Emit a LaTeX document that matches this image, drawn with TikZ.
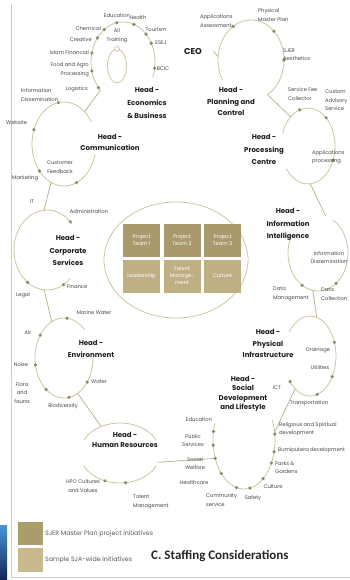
\documentclass[tikz,border=0pt]{standalone}
\usepackage{fontspec}
\setmainfont{Poppins}
\newfontfamily\titlefont{Carlito}
\usetikzlibrary{calc}
\definecolor{ringc}{RGB}{206,196,162}
\definecolor{connc}{RGB}{192,182,146}
\definecolor{dotc}{RGB}{140,140,104}
\definecolor{boxdark}{RGB}{168,154,108}
\definecolor{boxlight}{RGB}{190,176,132}
\definecolor{swdark}{RGB}{170,157,108}
\definecolor{swlight}{RGB}{200,186,140}
\definecolor{lblc}{RGB}{70,70,70}
\definecolor{headc}{RGB}{30,30,30}
\definecolor{framec}{RGB}{205,205,205}
\newcommand\mydot[3]{\fill[dotc] ($(#1)+(#2:#3)$) circle[radius=1.8];}
\begin{document}
\begin{tikzpicture}[x=1pt,y=-1pt,
 ring/.style={draw=ringc,line width=0.8pt},
 conn/.style={draw=connc,line width=0.8pt},
 lbl/.style={font=\fontsize{5.2}{8.5}\selectfont,text=lblc,inner sep=0pt,align=center},
 lbll/.style={lbl,align=left,anchor=west},
 lblr/.style={lbl,align=right,anchor=east},
 head/.style={font=\fontsize{7}{11.5}\selectfont\bfseries,text=headc,inner sep=0pt,align=center},
 headt/.style={head,font=\fontsize{7}{10}\selectfont\bfseries},
 boxd/.style={fill=boxdark,minimum width=37pt,minimum height=33pt,inner sep=0pt,text=white,font=\fontsize{5.2}{7}\selectfont,align=center},
 boxl/.style={boxd,fill=boxlight},
 legt/.style={font=\fontsize{6.3}{8}\selectfont,text=black!65,inner sep=0pt,anchor=west}
]
\useasboundingbox (0,0) rectangle (350,580);
\fill[white] (0,0) rectangle (350,580);
% frame and side block
\draw[framec,line width=0.8pt] (11.5,4) -- (11.5,577) -- (350,577);
\shade[top color={rgb,255:red,70;green,150;blue,220},bottom color={rgb,255:red,18;green,36;blue,88}] (0,525) rectangle (7,580);

% ellipse centres
\coordinate (eco) at (123,62);
\coordinate (com) at (64,144);
\coordinate (cor) at (47,250);
\coordinate (env) at (64,358);
\coordinate (hr) at (120,453);
\coordinate (soc) at (244,440);
\coordinate (phy) at (310,356);
\coordinate (inf) at (318,253);
\coordinate (pro) at (308,146);
\coordinate (pla) at (251,60);
\coordinate (cen) at (176,260);

% rings
\draw[ring] ($(eco)+(22:32 and 40)$) arc[start angle=22,end angle=-225,x radius=32,y radius=40];
\draw[ring] (117,66) ellipse[x radius=9.5,y radius=17];
\draw[ring,fill=white] (117,49) circle[radius=2.5];
\draw[ring] ($(com)+(14:32 and 42)$) arc[start angle=14,end angle=328,x radius=32,y radius=42];
\draw[ring] ($(cor)+(45:33 and 40)$) arc[start angle=45,end angle=320,x radius=33,y radius=40];
\draw[ring] ($(env)+(0:29 and 40)$) arc[start angle=0,end angle=315,x radius=29,y radius=40];
\draw[ring] ($(hr)+(-155:40 and 30)$) arc[start angle=-155,end angle=-25,x radius=40,y radius=30];
\draw[ring] ($(hr)+(25:40 and 30)$) arc[start angle=25,end angle=155,x radius=40,y radius=30];
\draw[ring] ($(soc)+(-24:31 and 49)$) arc[start angle=-24,end angle=200,x radius=31,y radius=49];
\draw[ring] ($(phy)+(-143:26 and 40)$) arc[start angle=-143,end angle=145,x radius=26,y radius=40];
\draw[ring] ($(inf)+(-60:30 and 38)$) arc[start angle=-60,end angle=203,x radius=30,y radius=38];
\draw[ring] ($(pro)+(-161:27 and 38)$) arc[start angle=-161,end angle=143,x radius=27,y radius=38];
\draw[ring] ($(pla)+(-210:33 and 40)$) arc[start angle=-210,end angle=60,x radius=33,y radius=40];
\draw[ring] (cen) ellipse[x radius=72,y radius=58];

% connector end points
\coordinate (eco-a) at ($(eco)+(135:32 and 40)$);
\coordinate (com-a) at ($(com)+(-50:32 and 42)$);
\coordinate (com-b) at ($(com)+(114:32 and 42)$);
\coordinate (cor-a) at ($(cor)+(-95:33 and 40)$);
\coordinate (cor-b) at ($(cor)+(95:33 and 40)$);
\coordinate (env-a) at ($(env)+(-115:29 and 40)$);
\coordinate (env-b) at ($(env)+(62:29 and 40)$);
\coordinate (hr-a) at ($(hr)+(-118:40 and 30)$);
\coordinate (hr-b) at ($(hr)+(18:40 and 30)$);
\coordinate (soc-a) at ($(soc)+(158:31 and 49)$);
\coordinate (soc-b) at ($(soc)+(-9:31 and 49)$);
\coordinate (phy-a) at ($(phy)+(125:26 and 40)$);
\coordinate (phy-b) at ($(phy)+(-75:26 and 40)$);
\coordinate (inf-a) at ($(inf)+(100:30 and 38)$);
\coordinate (inf-b) at ($(inf)+(-75:30 and 38)$);
\coordinate (pro-a) at ($(pro)+(85:27 and 38)$);
\coordinate (pro-b) at ($(pro)+(-130:27 and 38)$);
\coordinate (pla-a) at ($(pla)+(60:33 and 40)$);
\coordinate (pla-b) at ($(pla)+(185:33 and 40)$);
\coordinate (tick) at (213.5,51.5);

\draw[conn] (eco-a) -- (com-a);
\draw[conn] (com-b) -- (cor-a);
\draw[conn] (cor-b) -- (env-a);
\draw[conn] (env-b) -- (hr-a);
\draw[conn] (hr-b) -- (soc-a);
\draw[conn] (phy-a) -- (soc-b);
\draw[conn] (inf-a) -- (phy-b);
\draw[conn] (pro-a) -- (inf-b);
\draw[conn] (pla-a) -- (pro-b);
\draw[conn] (tick) -- (pla-b);

% dots
\foreach \a in {-126,-101,-70,-44,-28,9,-143,-167,167,140} {\mydot{eco}{\a}{32 and 40}}
\foreach \a in {-100,-160,140,67} {\mydot{com}{\a}{32 and 42}}
\foreach \a in {-45,126,60} {\mydot{cor}{\a}{33 and 40}}
\foreach \a in {-84,-145,170,128,80,37} {\mydot{env}{\a}{29 and 40}}
\foreach \a in {112,82} {\mydot{hr}{\a}{40 and 30}}
\foreach \a in {-170,174,158,137,104,79,52,28,14,-7} {\mydot{soc}{\a}{31 and 49}}
\foreach \a in {-20,31,74,140} {\mydot{phy}{\a}{26 and 40}}
\foreach \a in {122,53} {\mydot{inf}{\a}{30 and 38}}
\foreach \a in {-108,-48,22} {\mydot{pro}{\a}{27 and 38}}
\foreach \a in {-123,-46,0} {\mydot{pla}{\a}{33 and 40}}

% boxes
\node[boxd] (b1) at (141.5,240) {Project\\Team 1};
\node[boxd] (b2) at (182,240) {Project\\Team 2};
\node[boxd] (b3) at (222.5,240) {Project\\Team 3};
\node[boxl] (b4) at (141.5,276) {Leadership};
\node[boxl] (b5) at (182,276) {Talent\\Manage-\\ment};
\node[boxl] (b6) at (222.5,276) {Culture};

% heads
\node[head,font=\fontsize{8.5}{10}\selectfont\bfseries] (ceo) at (193,52) {CEO};
\node[head,font=\fontsize{7}{13}\selectfont\bfseries] (h-eco) at (147,103) {Head -\\Economics\\\& Business};
\node[head] (h-com) at (110,142.5) {Head -\\Communication};
\node[head,font=\fontsize{7}{12.5}\selectfont\bfseries] (h-cor) at (68,250.5) {Head -\\Corporate\\Services};
\node[head,font=\fontsize{7}{12}\selectfont\bfseries] (h-env) at (91,349) {Head -\\Environment};
\node[headt] (h-hr) at (125,440) {Head -\\Human Resources};
\node[head,font=\fontsize{7}{9.4}\selectfont\bfseries] (h-soc) at (243,394) {Head -\\Social\\Development\\and Lifestyle};
\node[head] (h-phy) at (268,343.5) {Head -\\Physical\\Infrastructure};
\node[head,font=\fontsize{7}{12.5}\selectfont\bfseries] (h-inf) at (288,224.5) {Head -\\Information\\Intelligence};
\node[head,font=\fontsize{7}{12.5}\selectfont\bfseries] (h-pro) at (264,149.5) {Head -\\Processing\\Centre};
\node[head] (h-pla) at (231,101.5) {Head -\\Planning and\\Control};

% labels economics
\node[lbl] (l1) at (117,16) {Education};
\node[lbl] (l2) at (138,18) {Health};
\node[lblr] (l3) at (101,29) {Chemical};
\node[lbl] (l4) at (156,30) {Tourism};
\node[lbl] (l5) at (161,43) {ESEJ};
\node[lbl] (l6) at (163,69) {BCIC};
\node[lblr] (l7) at (92,40) {Creative};
\node[lblr] (l8) at (89,53) {Islam Financial};
\node[lblr] (l9) at (89,70) {Food and Agro\\Processing};
\node[lblr] (l10) at (88,89) {Logistics};
\node[lbl] (l11) at (117,36) {All\\Training};
% communication
\node[lbll] (l12) at (21,95) {Information\\Dissemination};
\node[lbll] (l13) at (6,123) {Website};
\node[lbll] (l14) at (12,178) {Marketing};
\node[lbl] (l15) at (60,167) {Customer\\Feedback};
% corporate
\node[lbl] (l16) at (32,202) {IT};
\node[lbl] (l17) at (89,212) {Administration};
\node[lbl] (l18) at (23,295) {Legal};
\node[lbl] (l19) at (77,287) {Finance};
% environment
\node[lbl] (l20) at (94,313) {Marine Water};
\node[lbl] (l21) at (28,333) {Air};
\node[lbl] (l22) at (21,365) {Noise};
\node[lbl] (l23) at (22,393) {Flora\\and\\fauna};
\node[lbl] (l24) at (63,406) {Biodiversity};
\node[lbl] (l25) at (99,382) {Water};
% human resources
\node[lbl] (l26) at (83,486) {HPO Cultures\\and Values};
\node[lbll] (l27) at (133,502) {Talent\\Management};
% social
\node[lbl] (l28) at (199,420) {Education};
\node[lbl] (l29) at (193,440.5) {Public\\Services};
\node[lbl] (l30) at (195,463.5) {Social\\Welfare};
\node[lbl] (l31) at (194,483) {Healthcare};
\node[lbll] (l32) at (206,500) {Community\\service};
\node[lbl] (l33) at (253,498) {Safety};
\node[lbl] (l34) at (273,487) {Culture};
\node[lbll] (l35) at (275,467.5) {Parks \&\\Gardens};
\node[lbll] (l36) at (278,450) {Bumiputera development};
\node[lbll] (l37) at (279,429) {Religious and Spiritual\\development};
% physical
\node[lbl] (l38) at (318,350) {Drainage};
\node[lbl] (l39) at (320,368) {Utilities};
\node[lbl] (l40) at (277,388) {ICT};
\node[lbl] (l41) at (309,403) {Transportation};
% information intelligence
\node[lbl] (l42) at (329,257.5) {Information\\Dissemination};
\node[lbll] (l43) at (273,294) {Data\\Management};
\node[lbll] (l44) at (321,294) {Data\\Collection};
% processing
\node[lbll] (l45) at (288,94) {Service Fee\\Collector};
\node[lbll] (l46) at (325,100.5) {Custom\\Advisory\\Service};
\node[lbll] (l47) at (312,157) {Applications\\processing};
% planning
\node[lbll] (l48) at (200,21) {Applications\\Assessment};
\node[lbll] (l49) at (258,15) {Physical\\Master Plan};
\node[lbll] (l50) at (283,54.5) {SJER\\Aesthetics};

% legend
\fill[swdark] (18,522) rectangle (43,545);
\fill[swlight] (18,548) rectangle (43,572);
\node[legt] (g1) at (45,533.5) {SJER Master Plan project initiatives};
\node[legt] (g2) at (45,560) {Sample SJA-wide initiatives};
\node[anchor=west,inner sep=0pt,text=black!85,font=\titlefont\bfseries\fontsize{13}{15}\selectfont] (title) at (151,556) {C. Staffing Considerations};
\end{tikzpicture}
\end{document}
